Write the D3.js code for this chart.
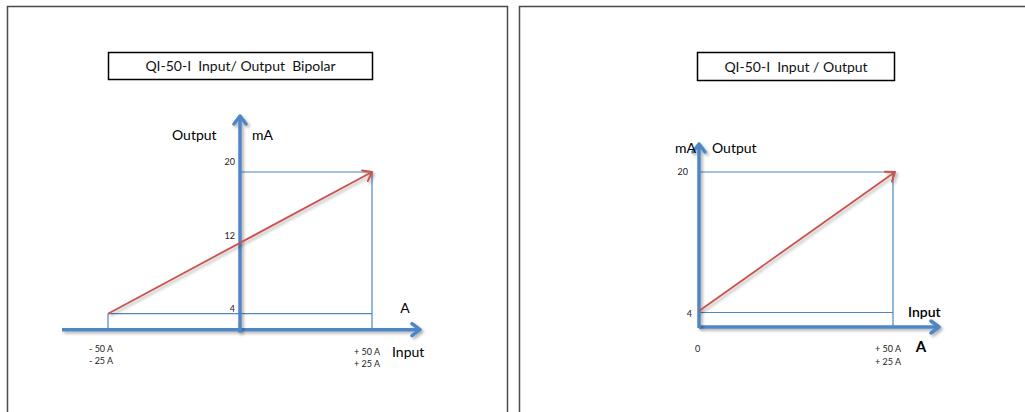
<!DOCTYPE html>
<html>
<head>
<meta charset="utf-8">
<script src="https://cdn.jsdelivr.net/npm/d3@7"></script>
<style>
  body { margin: 0; background: #fff; }
  svg { display: block; font-family: Lato, "Open Sans", sans-serif; }
  text { white-space: pre; }
</style>
</head>
<body>
<svg id="chart" width="1025" height="412"></svg>
<script>
// Bipolar chart: input current range and output loop current
const bipolarInput = [-50, 50];
const bipolarOutput = [4, 20];
const bipolarTicks = [20, 12, 4];
const bipolarInputLabels = [["- 50 A", "- 25 A"], ["+ 50 A", "+ 25 A"]];

// Unipolar chart
const unipolarInput = [0, 50];
const unipolarOutput = [4, 20];
const unipolarTicks = [20, 4];
const unipolarInputLabels = [["0"], ["+ 50 A", "+ 25 A"]];

const titles = ["QI-50-I  Input/ Output  Bipolar", "QI-50-I  Input / Output"];

const blue = "#4f86c4";
const red = "#c9524e";

const svg = d3.select("#chart");
const defs = svg.append("defs");

// user-space filter region so that straight lines (zero-size bbox) still render
const shadow = defs.append("filter").attr("id", "shadow")
  .attr("filterUnits", "userSpaceOnUse")
  .attr("x", 0).attr("y", 0).attr("width", 1025).attr("height", 412);
shadow.append("feDropShadow")
  .attr("dx", 2).attr("dy", 2).attr("stdDeviation", 1.5)
  .attr("flood-color", "#000").attr("flood-opacity", 0.3);

function marker(id, color, size, sw) {
  defs.append("marker")
    .attr("id", id)
    .attr("markerUnits", "userSpaceOnUse")
    .attr("viewBox", `${-size - 2} ${-size - 2} ${size * 2 + 4} ${size * 2 + 4}`)
    .attr("markerWidth", size * 2 + 4).attr("markerHeight", size * 2 + 4)
    .attr("refX", 0).attr("refY", 0)
    .attr("orient", "auto")
    .append("path")
    .attr("d", `M${-size},${-size * 0.75}L0,0L${-size},${size * 0.75}`)
    .attr("fill", "none")
    .attr("stroke", color)
    .attr("stroke-width", sw)
    .attr("stroke-linecap", "round")
    .attr("stroke-linejoin", "round");
}
marker("arrowBlue", blue, 8, 3.5);
marker("arrowRed", red, 8, 2);

// Panel frames (cut off at the bottom of the picture)
svg.append("rect").attr("x", 7.5).attr("y", 6.5).attr("width", 500).attr("height", 430)
  .attr("fill", "none").attr("stroke", "#4a4a4a").attr("stroke-width", 1.5);
svg.append("rect").attr("x", 519.5).attr("y", 6.5).attr("width", 530).attr("height", 430)
  .attr("fill", "none").attr("stroke", "#4a4a4a").attr("stroke-width", 1.5);

function titleBox(x, y, w, h, label) {
  svg.append("rect").attr("x", x).attr("y", y).attr("width", w).attr("height", h)
    .attr("fill", "#fff").attr("stroke", "#000").attr("stroke-width", 1.5);
  svg.append("text").attr("x", x + w / 2).attr("y", y + h / 2 + 5)
    .attr("text-anchor", "middle").attr("font-size", 14).attr("fill", "#111")
    .text(label);
}
titleBox(108.5, 52.5, 264, 27, titles[0]);
titleBox(697.5, 52.5, 197, 28, titles[1]);

// ---------- Left: bipolar ----------
{
  const x = d3.scaleLinear().domain(bipolarInput).range([108, 372]);
  const y = d3.scaleLinear().domain(bipolarOutput).range([313.7, 172]);
  const g = svg.append("g");
  const axisY = y(4) + 16;

  // thin guide lines
  const guides = [
    [x(0), y(20), x(50), y(20)],
    [x(-50), y(4), x(50), y(4)],
    [x(-50), y(4), x(-50), axisY],
    [x(50), y(20), x(50), axisY]
  ];
  g.selectAll(".guide").data(guides).enter().append("line")
    .attr("x1", d => d[0]).attr("y1", d => d[1]).attr("x2", d => d[2]).attr("y2", d => d[3])
    .attr("stroke", blue).attr("stroke-width", 1.2);

  // axes
  g.append("line").attr("x1", 62).attr("y1", axisY).attr("x2", 420).attr("y2", axisY)
    .attr("stroke", blue).attr("stroke-width", 3.5).attr("marker-end", "url(#arrowBlue)")
    .attr("filter", "url(#shadow)");
  g.append("line").attr("x1", x(0)).attr("y1", axisY + 3).attr("x2", x(0)).attr("y2", 116)
    .attr("stroke", blue).attr("stroke-width", 3.5).attr("marker-end", "url(#arrowBlue)")
    .attr("filter", "url(#shadow)");

  // transfer line
  g.append("line")
    .attr("x1", x(bipolarInput[0])).attr("y1", y(bipolarOutput[0]))
    .attr("x2", x(bipolarInput[1])).attr("y2", y(bipolarOutput[1]))
    .attr("stroke", red).attr("stroke-width", 1.8).attr("marker-end", "url(#arrowRed)")
    .attr("filter", "url(#shadow)");

  // tick labels
  g.selectAll(".tick").data(bipolarTicks).enter().append("text")
    .attr("x", x(0) - 5).attr("y", d => y(d) - (d === 4 ? 2 : d === 12 ? 4 : 7))
    .attr("text-anchor", "end").attr("font-size", 9).attr("fill", "#222")
    .text(d => d);

  bipolarInputLabels.forEach((lines, i) => {
    const t = g.append("text").attr("font-size", 9).attr("fill", "#222");
    lines.forEach((s, j) => {
      t.append("tspan").attr("x", i === 0 ? 89 : 354).attr("y", (i === 0 ? 352 : 355) + j * 12).text(s);
    });
  });

  g.append("text").attr("x", 172).attr("y", 140).attr("font-size", 14).text("Output");
  g.append("text").attr("x", 252).attr("y", 140).attr("font-size", 14).text("mA");
  g.append("text").attr("x", 405).attr("y", 313).attr("text-anchor", "middle").attr("font-size", 14).text("A");
  g.append("text").attr("x", 392).attr("y", 357).attr("font-size", 14).text("Input");
}

// ---------- Right: unipolar ----------
{
  const x = d3.scaleLinear().domain(unipolarInput).range([699, 893]);
  const y = d3.scaleLinear().domain(unipolarOutput).range([311, 172]);
  const g = svg.append("g");
  const axisY = y(4) + 16;

  const guides = [
    [x(0), y(20), x(50), y(20)],
    [x(0), y(4) + 1.5, x(50), y(4) + 1.5],
    [x(50), y(20), x(50), axisY]
  ];
  g.selectAll(".guide").data(guides).enter().append("line")
    .attr("x1", d => d[0]).attr("y1", d => d[1]).attr("x2", d => d[2]).attr("y2", d => d[3])
    .attr("stroke", blue).attr("stroke-width", 1.2);

  g.append("line").attr("x1", x(0)).attr("y1", axisY).attr("x2", 939).attr("y2", axisY)
    .attr("stroke", blue).attr("stroke-width", 3.5).attr("marker-end", "url(#arrowBlue)")
    .attr("filter", "url(#shadow)");
  g.append("line").attr("x1", x(0)).attr("y1", axisY + 1).attr("x2", x(0)).attr("y2", 144)
    .attr("stroke", blue).attr("stroke-width", 3.5).attr("marker-end", "url(#arrowBlue)")
    .attr("filter", "url(#shadow)");

  g.append("line")
    .attr("x1", x(unipolarInput[0])).attr("y1", y(unipolarOutput[0]))
    .attr("x2", x(unipolarInput[1]) + 2).attr("y2", y(unipolarOutput[1]))
    .attr("stroke", red).attr("stroke-width", 1.8).attr("marker-end", "url(#arrowRed)")
    .attr("filter", "url(#shadow)");

  g.selectAll(".tick").data(unipolarTicks).enter().append("text")
    .attr("x", d => d === 4 ? x(0) - 7 : x(0) - 11).attr("y", d => d === 4 ? y(d) + 6 : y(d) + 3)
    .attr("text-anchor", "end").attr("font-size", 9).attr("fill", "#222")
    .text(d => d);

  unipolarInputLabels.forEach((lines, i) => {
    const t = g.append("text").attr("font-size", 9).attr("fill", "#222");
    lines.forEach((s, j) => {
      t.append("tspan").attr("x", i === 0 ? 695 : 875).attr("y", 352 + j * 13).text(s);
    });
  });

  g.append("text").attr("x", 696).attr("y", 153).attr("text-anchor", "end").attr("font-size", 14).text("mA");
  g.append("text").attr("x", 712).attr("y", 153).attr("font-size", 14).text("Output");
  g.append("text").attr("x", 908).attr("y", 317).attr("font-size", 14).attr("font-weight", 600).text("Input");
  g.append("text").attr("x", 921).attr("y", 352).attr("text-anchor", "middle").attr("font-size", 15).attr("font-weight", "bold").text("A");
}
</script>
</body>
</html>
